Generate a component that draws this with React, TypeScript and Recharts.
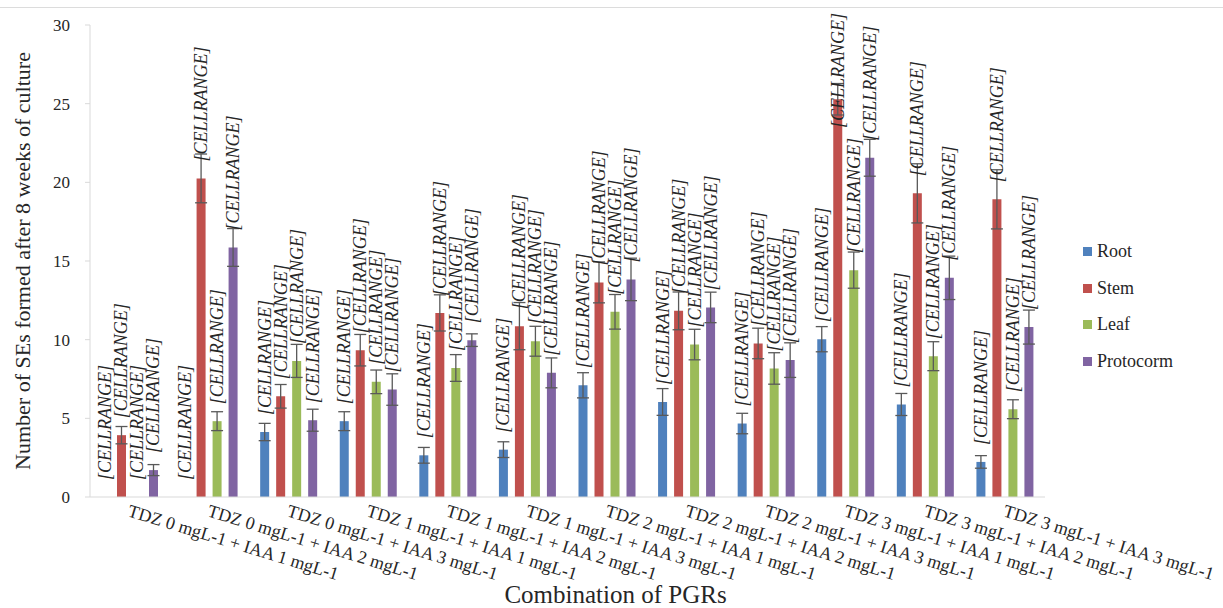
import React from 'react';
import { BarChart, Bar, XAxis, YAxis, ErrorBar, LabelList, Legend } from 'recharts';

const categories = [
  'TDZ 0 mgL-1 + IAA 1 mgL-1',
  'TDZ 0 mgL-1 + IAA 2 mgL-1',
  'TDZ 0 mgL-1 + IAA 3 mgL-1',
  'TDZ 1 mgL-1 + IAA 1 mgL-1',
  'TDZ 1 mgL-1 + IAA 2 mgL-1',
  'TDZ 1 mgL-1 + IAA 3 mgL-1',
  'TDZ 2 mgL-1 + IAA 1 mgL-1',
  'TDZ 2 mgL-1 + IAA 2 mgL-1',
  'TDZ 2 mgL-1 + IAA 3 mgL-1',
  'TDZ 3 mgL-1 + IAA 1 mgL-1',
  'TDZ 3 mgL-1 + IAA 2 mgL-1',
  'TDZ 3 mgL-1 + IAA 3 mgL-1',
];

const root = [0, 0, 4.13, 4.82, 2.65, 3.01, 7.1, 6.04, 4.67, 10.03, 5.88, 2.23];
const rootErr = [null, null, 0.55, 0.6, 0.5, 0.5, 0.8, 0.85, 0.65, 0.8, 0.7, 0.4];
const stem = [3.93, 20.25, 6.4, 9.33, 11.7, 10.86, 13.64, 11.83, 9.76, 25.28, 19.3, 18.92];
const stemErr = [0.55, 1.55, 0.75, 1.0, 1.15, 1.5, 1.3, 1.2, 0.97, 1.0, 1.88, 1.88];
const leaf = [0, 4.82, 8.65, 7.32, 8.2, 9.9, 11.77, 9.69, 8.17, 14.42, 8.95, 5.58];
const leafErr = [null, 0.6, 1.05, 0.75, 0.85, 0.95, 1.1, 0.97, 1.0, 1.15, 0.92, 0.6];
const protocorm = [1.71, 15.86, 4.88, 6.83, 9.97, 7.89, 13.83, 12.05, 8.7, 21.56, 13.93, 10.8];
const protocormErr = [0.35, 1.2, 0.7, 1.0, 0.4, 0.95, 1.35, 0.97, 1.1, 1.17, 1.38, 1.08];

const yTicks = [0, 5, 10, 15, 20, 25, 30];

const series = [
  { key: 'root', name: 'Root', color: '#4f81bd' },
  { key: 'stem', name: 'Stem', color: '#c0504d' },
  { key: 'leaf', name: 'Leaf', color: '#9bbb59' },
  { key: 'protocorm', name: 'Protocorm', color: '#8064a2' },
];

const data = categories.map((name, i) => ({
  name,
  root: root[i],
  rootErr: rootErr[i],
  stem: stem[i],
  stemErr: stemErr[i],
  leaf: leaf[i],
  leafErr: leafErr[i],
  protocorm: protocorm[i],
  protocormErr: protocormErr[i],
}));

const W = 1223;
const H = 608;
const FONT = '"Liberation Serif", "Times New Roman", serif';
const TEXT = '#262626';
const LABEL_LEN = 116;

// data label sits above the bar end; pushed down if it would leave the chart
const CellRangeLabel = (props: any) => {
  const vb = props.viewBox || props;
  const x = vb.x ?? props.x;
  const y = vb.y ?? props.y;
  const w = vb.width ?? props.width;
  const cx = x + w / 2;
  const by = Math.max(y - 17, 12 + LABEL_LEN);
  return (
    <text
      x={cx}
      y={by}
      transform={`rotate(-90, ${cx}, ${by})`}
      textAnchor="start"
      dominantBaseline="central"
      fontFamily={FONT}
      fontStyle="italic"
      fontSize={18}
      fill={TEXT}
    >
      [CELLRANGE]
    </text>
  );
};

const CategoryTick = (props: any) => {
  const { x, y, payload } = props;
  const tx = x - 3;
  const ty = y + 19;
  return (
    <text
      x={tx}
      y={ty}
      transform={`rotate(17, ${tx}, ${ty})`}
      textAnchor="start"
      fontFamily={FONT}
      fontSize={18}
      fill={TEXT}
    >
      {payload.value}
    </text>
  );
};

const LegendBox = () => (
  <div style={{ fontFamily: FONT, fontSize: 18, color: TEXT }}>
    {series.map((s) => (
      <div key={s.key} style={{ height: 36.7, display: 'flex', alignItems: 'center' }}>
        <span style={{ width: 9, height: 9, background: s.color, display: 'inline-block', marginRight: 5 }} />
        <span>{s.name}</span>
      </div>
    ))}
  </div>
);

export default function App() {
  return (
    <div style={{ position: 'absolute', left: 0, top: 0, width: W, height: H, background: '#fff' }}>
      <div style={{ position: 'absolute', left: 0, top: 7, width: W, height: 1, background: '#dcdcdc' }} />
      <BarChart
        width={W}
        height={H}
        data={data}
        margin={{ top: 25, right: 38, bottom: 0, left: 0 }}
        barSize={9}
        barGap={7}
      >
        <XAxis
          dataKey="name"
          height={111}
          interval={0}
          tickLine={false}
          tickSize={0}
          tickMargin={0}
          axisLine={{ stroke: '#d9d9d9' }}
          tick={<CategoryTick />}
          label={{
            content: (p: any) => (
              <text
                x={W / 2 + 4}
                y={p.viewBox.y + p.viewBox.height - 5}
                textAnchor="middle"
                fontFamily={FONT}
                fontSize={25}
                fill={TEXT}
              >
                Combination of PGRs
              </text>
            ),
          }}
        />
        <YAxis
          width={90}
          domain={[0, 30]}
          ticks={yTicks}
          interval={0}
          tickSize={5}
          tickMargin={15}
          axisLine={{ stroke: '#d9d9d9' }}
          tickLine={{ stroke: '#d9d9d9' }}
          tick={{ fill: TEXT, fontSize: 17, fontFamily: FONT }}
          label={{
            content: (p: any) => {
              const cx = p.viewBox.x + 22;
              const cy = p.viewBox.y + p.viewBox.height / 2;
              return (
                <text
                  x={cx}
                  y={cy}
                  transform={`rotate(-90, ${cx}, ${cy})`}
                  textAnchor="middle"
                  dominantBaseline="central"
                  fontFamily={FONT}
                  fontSize={22}
                  fill={TEXT}
                >
                  Number of SEs formed after 8 weeks of culture
                </text>
              );
            },
          }}
        />
        <Legend
          layout="vertical"
          verticalAlign="top"
          align="right"
          wrapperStyle={{ position: 'absolute', left: 1083, top: 233, width: 140 }}
          content={<LegendBox />}
        />
        {series.map((s) => (
          <Bar
            key={s.key}
            dataKey={s.key}
            name={s.name}
            fill={s.color}
            minPointSize={0.01}
            isAnimationActive={false}
          >
            <ErrorBar dataKey={`${s.key}Err`} direction="y" width={6} stroke="#595959" strokeWidth={1.3} />
            <LabelList dataKey={s.key} content={<CellRangeLabel />} />
          </Bar>
        ))}
      </BarChart>
    </div>
  );
}
